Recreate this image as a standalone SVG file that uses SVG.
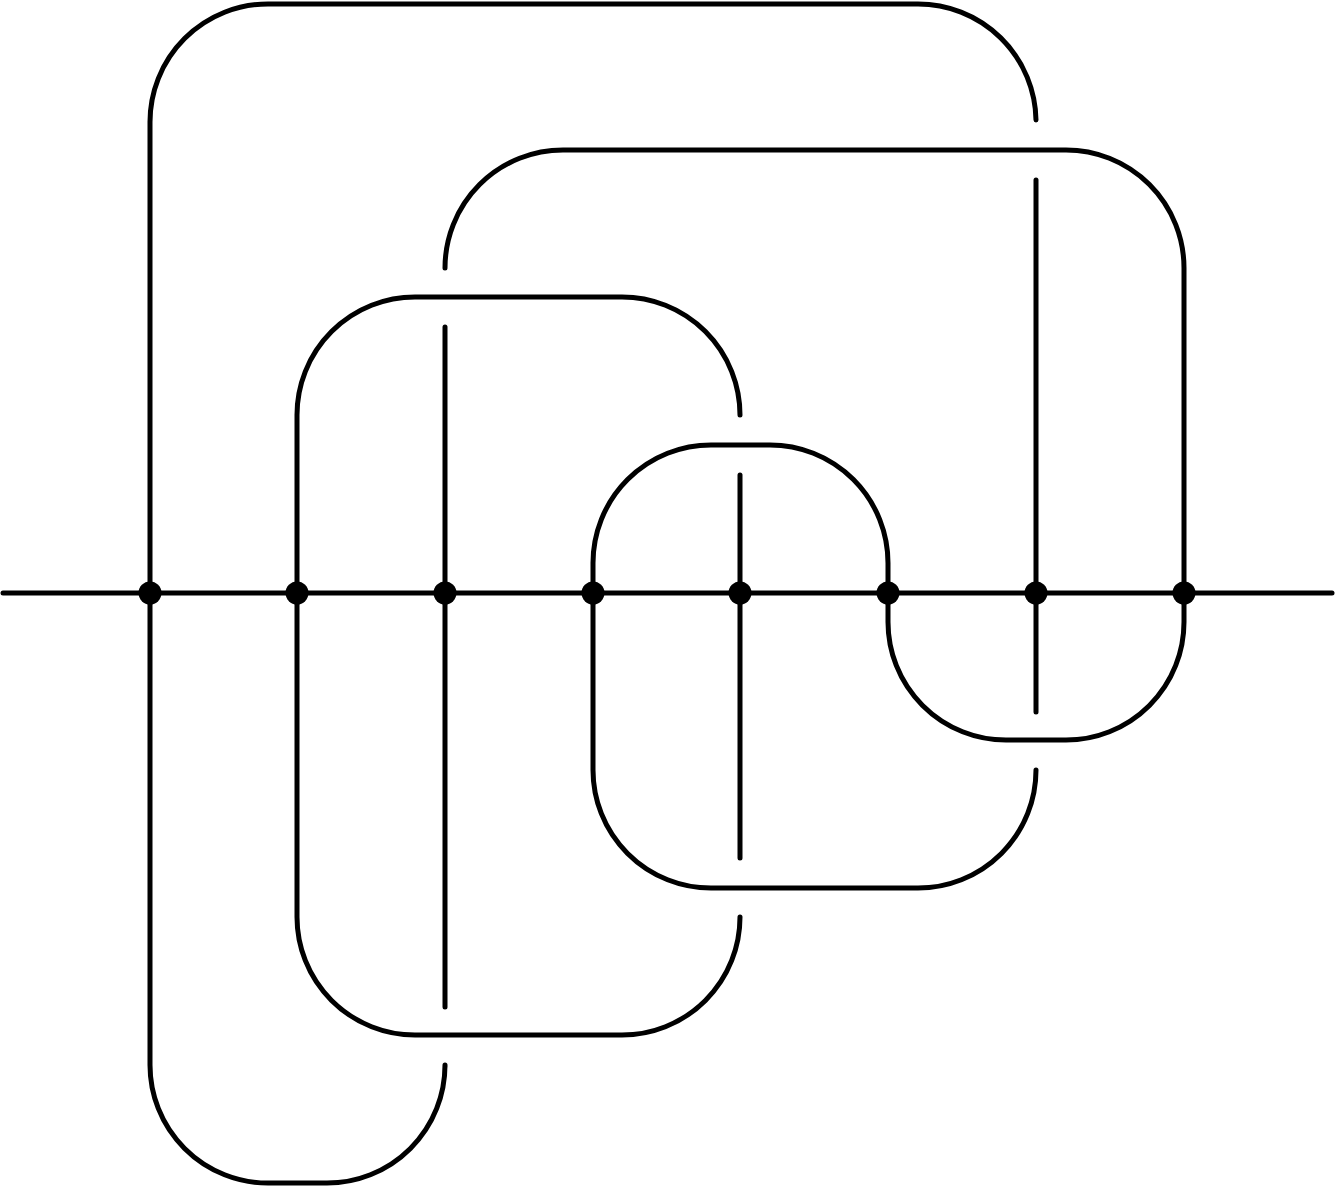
<svg xmlns="http://www.w3.org/2000/svg" width="1335" height="1187" viewBox="0 0 1335 1187">
<style>
.s{fill:none;stroke:#000;stroke-width:5;stroke-linecap:round;stroke-linejoin:round}
.d{fill:#000}
</style>
<rect width="1335" height="1187" fill="#fff"/>
<g id="connectors">
<path class="s" d="M3,593 H1332"/>
<path class="s" d="M1036,120 A118,118 0 0 0 918,4 H268 A118,118 0 0 0 150,122 V1065 A118,118 0 0 0 268,1183 H327 A118,118 0 0 0 445,1065 V1067"/>
<path class="s" d="M445,268 A118,118 0 0 1 563,150 H1066 A118,118 0 0 1 1184,268 V622 A118,118 0 0 1 1066,740 H1006 A118,118 0 0 1 888,622 V563 A118,118 0 0 0 770,445 H711 A118,118 0 0 0 593,563 V770 A118,118 0 0 0 711,888 H918 A118,118 0 0 0 1036,770"/>
<path class="s" d="M740,415 A118,118 0 0 0 622,297 H415 A118,118 0 0 0 297,415 V917 A118,118 0 0 0 415,1035 H622 A118,118 0 0 0 740,917"/>
<path class="s" d="M1036,180 V712"/>
<path class="s" d="M445,327 V1007"/>
<path class="s" d="M740,475 V858"/>
</g>
<g id="n1"><circle class="d" cx="150" cy="593" r="11.5"/></g>
<g id="n2"><circle class="d" cx="297" cy="593" r="11.5"/></g>
<g id="n3"><circle class="d" cx="445" cy="593" r="11.5"/></g>
<g id="n4"><circle class="d" cx="593" cy="593" r="11.5"/></g>
<g id="n5"><circle class="d" cx="740" cy="593" r="11.5"/></g>
<g id="n6"><circle class="d" cx="888" cy="593" r="11.5"/></g>
<g id="n7"><circle class="d" cx="1036" cy="593" r="11.5"/></g>
<g id="n8"><circle class="d" cx="1184" cy="593" r="11.5"/></g>
</svg>
